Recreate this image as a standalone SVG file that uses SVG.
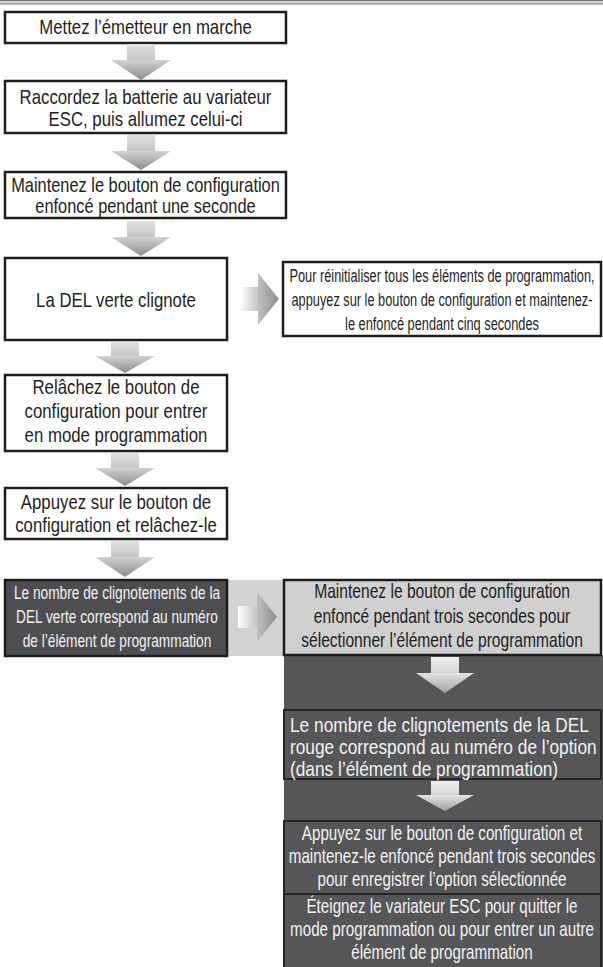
<svg xmlns="http://www.w3.org/2000/svg" width="603" height="967" viewBox="0 0 603 967">
<style>
.box{fill:#ffffff;stroke:#1c1c1c;stroke-width:2.5}
.dbox{fill:#4e4e50;stroke:#1c1c1c;stroke-width:2.5}
.lbox{fill:#d0d0d0;stroke:#1c1c1c;stroke-width:2.5}
.gbox{fill:#565658;stroke:#262626;stroke-width:2}
.t{font-family:"Liberation Sans",Arial,sans-serif;font-size:20px;fill:#1e1e1e;text-anchor:middle}
.s{font-size:17.5px}
.w{fill:#f2f2f2}
.l{text-anchor:start}
</style>
<defs>
<linearGradient id="gShaft" x1="0" y1="0" x2="0" y2="1"><stop offset="0" stop-color="#e2e2e2"/><stop offset="1" stop-color="#c6c6c6"/></linearGradient>
<linearGradient id="gHead" x1="0" y1="0" x2="0" y2="1"><stop offset="0" stop-color="#d2d2d2"/><stop offset="1" stop-color="#8c8c8c"/></linearGradient>
<linearGradient id="gShaftD" x1="0" y1="0" x2="0" y2="1"><stop offset="0" stop-color="#eeeeee"/><stop offset="1" stop-color="#d6d6d6"/></linearGradient>
<linearGradient id="gHeadD" x1="0" y1="0" x2="0" y2="1"><stop offset="0" stop-color="#e4e4e4"/><stop offset="1" stop-color="#a0a0a0"/></linearGradient>
<linearGradient id="gShaftR" x1="0" y1="0" x2="1" y2="0"><stop offset="0" stop-color="#ffffff"/><stop offset="1" stop-color="#c4c4c4"/></linearGradient>
<linearGradient id="gHeadR" x1="0" y1="0" x2="1" y2="0"><stop offset="0" stop-color="#c0c0c0"/><stop offset="1" stop-color="#8e8e8e"/></linearGradient>
</defs>
<rect x="0" y="0" width="603" height="967" fill="#ffffff"/>
<rect x="-1" y="0.5" width="605" height="3.5" fill="#cfcfcf" stroke="#7a7a7a" stroke-width="1"/>

<!-- background panels -->
<rect id="band" x="227" y="580" width="58" height="76" fill="#d3d3d3"/>
<rect id="darkpanel" x="284" y="655" width="320" height="313" fill="#565658"/>

<g id="n1">
<rect class="box" x="5" y="12" width="281" height="31"/>
<text class="t" transform="translate(145.5 0) scale(0.84 1)"><tspan x="0" y="34.5">Mettez l’émetteur en marche</tspan></text>
</g>
<g id="n2">
<rect class="box" x="5" y="81" width="281" height="52"/>
<text class="t" transform="translate(145.5 0) scale(0.84 1)"><tspan x="0" y="104">Raccordez la batterie au variateur</tspan><tspan x="0" y="126">ESC, puis allumez celui-ci</tspan></text>
</g>
<g id="n3">
<rect class="box" x="5" y="172" width="281" height="46"/>
<text class="t" transform="translate(145.5 0) scale(0.82 1)"><tspan x="0" y="192">Maintenez le bouton de configuration</tspan><tspan x="0" y="213">enfoncé pendant une seconde</tspan></text>
</g>
<g id="n4">
<rect class="box" x="5" y="258" width="222" height="82"/>
<text class="t" transform="translate(116 0) scale(0.84 1)"><tspan x="0" y="307">La DEL verte clignote</tspan></text>
</g>
<g id="n4b">
<rect class="box" x="283" y="262" width="318" height="74"/>
<text class="t s" transform="translate(442 0) scale(0.73 1)"><tspan x="0" y="282">Pour réinitialiser tous les éléments de programmation,</tspan><tspan x="0" y="306">appuyez sur le bouton de configuration et maintenez-</tspan><tspan x="0" y="330">le enfoncé pendant cinq secondes</tspan></text>
</g>
<g id="n5">
<rect class="box" x="5" y="375" width="222" height="76"/>
<text class="t" transform="translate(116 0) scale(0.84 1)"><tspan x="0" y="394">Relâchez le bouton de</tspan><tspan x="0" y="418">configuration pour entrer</tspan><tspan x="0" y="442">en mode programmation</tspan></text>
</g>
<g id="n6">
<rect class="box" x="5" y="488" width="222" height="51"/>
<text class="t" transform="translate(116 0) scale(0.84 1)"><tspan x="0" y="509">Appuyez sur le bouton de</tspan><tspan x="0" y="532">configuration et relâchez-le</tspan></text>
</g>
<g id="n7">
<rect class="dbox" x="5" y="580" width="222" height="76"/>
<text class="t w" style="font-size:18.5px" transform="translate(117 0) scale(0.74 1)"><tspan x="0" y="599">Le nombre de clignotements de la</tspan><tspan x="0" y="623">DEL verte correspond au numéro</tspan><tspan x="0" y="647">de l’élément de programmation</tspan></text>
</g>
<g id="n8">
<rect class="lbox" x="284" y="580" width="317" height="75"/>
<text class="t" transform="translate(442 0) scale(0.78 1)"><tspan x="0" y="598">Maintenez le bouton de configuration</tspan><tspan x="0" y="623">enfoncé pendant trois secondes pour</tspan><tspan x="0" y="647">sélectionner l’élément de programmation</tspan></text>
</g>
<g id="n9">
<rect class="gbox" x="284" y="710" width="317" height="69"/>
<text class="t w l" transform="translate(290 0) scale(0.865 1)"><tspan x="0" y="732">Le nombre de clignotements de la DEL</tspan><tspan x="0" y="754">rouge correspond au numéro de l’option</tspan><tspan x="0" y="776">(dans l’élément de programmation)</tspan></text>
</g>
<g id="n10">
<rect class="gbox" x="284" y="821" width="317" height="73"/>
<text class="t w" transform="translate(442 0) scale(0.76 1)"><tspan x="0" y="840">Appuyez sur le bouton de configuration et</tspan><tspan x="0" y="863">maintenez-le enfoncé pendant trois secondes</tspan><tspan x="0" y="886">pour enregistrer l’option sélectionnée</tspan></text>
</g>
<g id="n11">
<rect class="gbox" x="284" y="894" width="317" height="76"/>
<text class="t w" transform="translate(442 0) scale(0.76 1)"><tspan x="0" y="913">Éteignez le variateur ESC pour quitter le</tspan><tspan x="0" y="936">mode programmation ou pour entrer un autre</tspan><tspan x="0" y="959">élément de programmation</tspan></text>
</g>

<g id="connectors">
<rect x="127" y="44" width="28" height="16" fill="url(#gShaft)"/><polygon points="111,60 171,60 141,80" fill="url(#gHead)"/>
<rect x="127" y="135" width="28" height="16" fill="url(#gShaft)"/><polygon points="111,151 171,151 141,170" fill="url(#gHead)"/>
<rect x="127" y="221" width="28" height="16" fill="url(#gShaft)"/><polygon points="111,237 171,237 141,256" fill="url(#gHead)"/>
<rect x="111" y="342" width="28" height="14" fill="url(#gShaft)"/><polygon points="95,356 155,356 125,373" fill="url(#gHead)"/>
<rect x="111" y="453" width="28" height="15" fill="url(#gShaft)"/><polygon points="95,468 155,468 125,486" fill="url(#gHead)"/>
<rect x="111" y="541" width="28" height="16" fill="url(#gShaft)"/><polygon points="95,557 155,557 125,577" fill="url(#gHead)"/>
<rect x="240" y="287" width="18" height="24" fill="url(#gShaftR)"/><polygon points="258,273 258,325 279,299" fill="url(#gHeadR)"/>
<rect x="238" y="606" width="19" height="22" fill="url(#gShaftR)"/><polygon points="257,592 257,642 277,617" fill="url(#gHeadR)"/>
<rect x="431" y="657" width="28" height="16" fill="url(#gShaftD)"/><polygon points="416,673 474,673 445,693" fill="url(#gHeadD)"/>
<rect x="431" y="781" width="28" height="14" fill="url(#gShaftD)"/><polygon points="416,795 474,795 445,811" fill="url(#gHeadD)"/>
</g>
</svg>
